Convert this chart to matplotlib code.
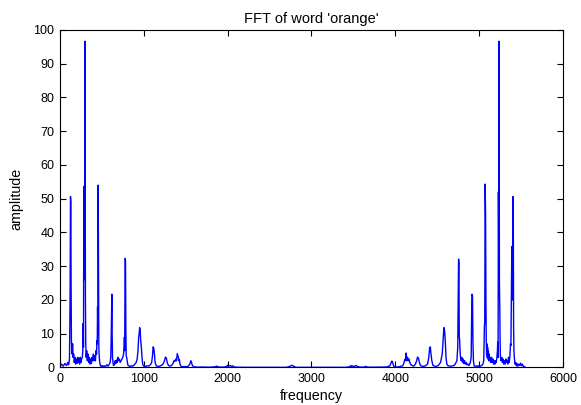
import matplotlib
matplotlib.use("Agg")
import matplotlib.pyplot as plt

# spectrum, lower half (0 .. ~2800 Hz)
freq_lo = [0, 20, 40, 60, 80, 95, 105, 115, 122, 127, 131, 134, 138, 145, 152, 158,
           165, 172, 180, 188, 196, 204, 212, 220, 228, 236, 244, 252, 260, 268, 274,
           278, 282, 286, 290, 295, 300, 305, 309, 314, 320, 328, 336, 344, 352, 360,
           368, 376, 384, 392, 400, 408, 416, 424, 432, 438, 442, 446, 450, 453, 457,
           461, 465, 470, 476, 484, 495, 505, 515, 530, 545, 560, 575, 590, 600, 607,
           612, 616, 620, 624, 628, 634, 640, 650, 660, 668, 676, 684, 692, 700, 710,
           720, 730, 740, 750, 760, 766, 770, 773, 777, 779, 783, 787, 791, 797, 803,
           810, 820, 835, 850, 865, 880, 895, 910, 922, 932, 940, 946, 952, 958, 964,
           972, 980, 988, 1000, 1020, 1040, 1060, 1080, 1095, 1105, 1112, 1120, 1128,
           1136, 1150, 1170, 1190, 1210, 1230, 1245, 1260, 1270, 1280, 1295, 1315,
           1335, 1350, 1362, 1372, 1382, 1392, 1400, 1408, 1414, 1420, 1426, 1432,
           1445, 1465, 1490, 1510, 1530, 1550, 1562, 1570, 1580, 1600, 1650, 1700,
           1750, 1800, 1850, 1870, 1880, 1920, 1960, 1990, 2000, 2010, 2030, 2045,
           2060, 2075, 2100, 2200, 2400, 2600, 2700, 2740, 2760, 2775, 2790]
amp_lo = [0.3, 1.0, 0.4, 1.2, 0.6, 1.5, 0.8, 2.5, 20, 50.6, 49, 25, 8, 4, 7, 3,
          4, 1.5, 3, 1, 2.5, 1.2, 3, 1.5, 2.8, 1, 3, 1.5, 2.5, 3, 5,
          13, 6, 53.6, 26, 40, 96.6, 20, 7.5, 3, 5, 2, 4, 1.5, 3, 1,
          2.5, 1.2, 3, 2, 4, 2, 3.5, 2, 5, 4, 8, 7, 18, 10, 54,
          30, 6, 3, 1.5, 0.5, 0.3, 0.6, 0.3, 0.5, 0.3, 0.8, 0.4, 1, 1.5, 3,
          8, 15, 21.7, 10, 3, 1.5, 0.6, 0.8, 2, 1.2, 2.2, 1.5, 3, 2, 2.5,
          1.5, 2, 2.5, 3, 4, 6, 9, 5, 20, 32.3, 31.5, 12, 3.5, 3, 2,
          0.8, 0.5, 0.3, 0.5, 0.4, 0.6, 1, 1.5, 2.5, 5, 9, 10, 11.8, 11, 8,
          6, 3, 1, 0.4, 0.3, 0.5, 0.4, 0.8, 1.5, 3.5, 6.1, 5.8, 4,
          1.5, 0.5, 0.3, 0.4, 0.6, 1, 1.8, 3.1, 2.8, 1.5, 0.6, 0.4,
          0.7, 1.2, 2, 1.8, 2.5, 2, 4.1, 3.5, 3, 2, 2.3, 1,
          0.4, 0.2, 0.3, 0.2, 0.4, 1, 2, 1.6, 0.6, 0.2, 0.1, 0.15,
          0.1, 0.1, 0.2, 0.4, 0.2, 0.1, 0.15, 0.3, 0.7, 0.4, 0.6, 0.3,
          0.5, 0.2, 0.1, 0.05, 0.05, 0.05, 0.05, 0.3, 0.6, 0.6, 0.3]

# upper (mirrored) half
freq_hi = [2820, 3000, 3400, 3455, 3470, 3480, 3495, 3505, 3535, 3546, 3580, 3640,
           3650, 3665, 3700, 3800, 3900, 3935, 3948, 3958, 3968, 3978, 3990, 4020,
           4060, 4090, 4105, 4112, 4118, 4124, 4130, 4138, 4146, 4154, 4162, 4170,
           4180, 4200, 4220, 4240, 4255, 4265, 4275, 4288, 4300, 4330, 4360, 4385,
           4400, 4410, 4418, 4426, 4436, 4450, 4480, 4510, 4540, 4560, 4572, 4580,
           4588, 4596, 4605, 4615, 4630, 4660, 4690, 4710, 4725, 4735, 4745, 4751,
           4755, 4759, 4763, 4767, 4772, 4778, 4786, 4794, 4802, 4810, 4818, 4826,
           4835, 4845, 4855, 4865, 4880, 4895, 4905, 4911, 4916, 4921, 4926, 4932,
           4940, 4955, 4970, 4985, 5000, 5015, 5030, 5045, 5055, 5063, 5067, 5072,
           5077, 5081, 5085, 5089, 5093, 5097, 5101, 5105, 5110, 5115, 5120, 5126,
           5132, 5140, 5148, 5156, 5164, 5172, 5180, 5188, 5196, 5204, 5212, 5218,
           5222, 5226, 5230, 5234, 5237, 5242, 5246, 5250, 5254, 5262, 5270, 5278,
           5286, 5294, 5302, 5310, 5318, 5326, 5334, 5342, 5350, 5358, 5366, 5374,
           5379, 5384, 5390, 5396, 5403, 5407, 5411, 5415, 5420, 5428, 5436, 5444,
           5452, 5462, 5472, 5482, 5494, 5504, 5516, 5526, 5536, 5550]
amp_hi = [0.05, 0.05, 0.05, 0.2, 0.6, 0.3, 0.5, 0.2, 0.6, 0.3, 0.1, 0.15,
          0.35, 0.1, 0.1, 0.1, 0.15, 0.5, 1.3, 1.9, 1.6, 0.6, 0.2, 0.1,
          0.3, 0.5, 1.5, 2.3, 2, 3, 4.3, 2, 3, 2, 2.5, 1.8,
          1, 0.6, 0.4, 1, 2, 3.1, 2.8, 1.5, 0.6, 0.3, 0.5, 1,
          3, 5.8, 6.1, 4, 2, 0.6, 0.3, 0.5, 1.5, 4, 9, 11.8,
          11, 8, 3, 1, 0.5, 0.4, 0.5, 0.8, 1.5, 2, 6, 20,
          32.1, 31, 9, 8.5, 5, 3, 2, 3, 1.5, 2.5, 1.2, 2,
          1, 1.5, 0.8, 1, 0.6, 1.5, 3, 16, 21.7, 21, 8, 2,
          0.5, 0.3, 0.5, 0.3, 0.6, 0.4, 0.6, 1, 2, 12.5, 13, 54.3,
          45, 20, 8, 4, 7, 3, 6, 2.5, 5, 2, 4, 2,
          3, 1.5, 3, 1.5, 2.5, 1, 2, 1, 2, 1.5, 3, 5,
          7.5, 3, 52, 30, 96.6, 25, 18, 8, 3, 2, 3, 1.5,
          2.5, 1, 2, 1, 2.5, 1.5, 2, 1, 3, 1.5, 3, 7,
          6.5, 20, 35.8, 20, 50.6, 48, 12, 5, 3, 1, 1.5, 0.5,
          1.2, 0.4, 1, 0.6, 1.3, 0.5, 1, 0.4, 0.3, 0.1]

xticks = [0, 1000, 2000, 3000, 4000, 5000, 6000]
yticks = [0, 10, 20, 30, 40, 50, 60, 70, 80, 90, 100]

plt.rcParams['font.family'] = ['Liberation Sans', 'DejaVu Sans']

fig = plt.figure(figsize=(5.81, 4.05), dpi=100)
ax = fig.add_axes([0.103, 0.0926, 0.866, 0.834])

ax.plot(freq_lo + freq_hi, amp_lo + amp_hi, color='#0000ff', lw=1.0)

ax.set_xlim(0, 6000)
ax.set_ylim(0, 100)
ax.set_xticks(xticks)
ax.set_yticks(yticks)
ax.tick_params(direction='in', top=True, right=True, length=4, width=0.8,
               labelsize=9, pad=4)
for s in ax.spines.values():
    s.set_linewidth(0.8)

ax.set_title("FFT of word 'orange'", fontsize=10.5, pad=4.5)
ax.set_xlabel('frequency', fontsize=10.3, labelpad=2.5)
ax.set_ylabel('amplitude', fontsize=10.3, labelpad=7)

fig.savefig('out.png', dpi=100)
